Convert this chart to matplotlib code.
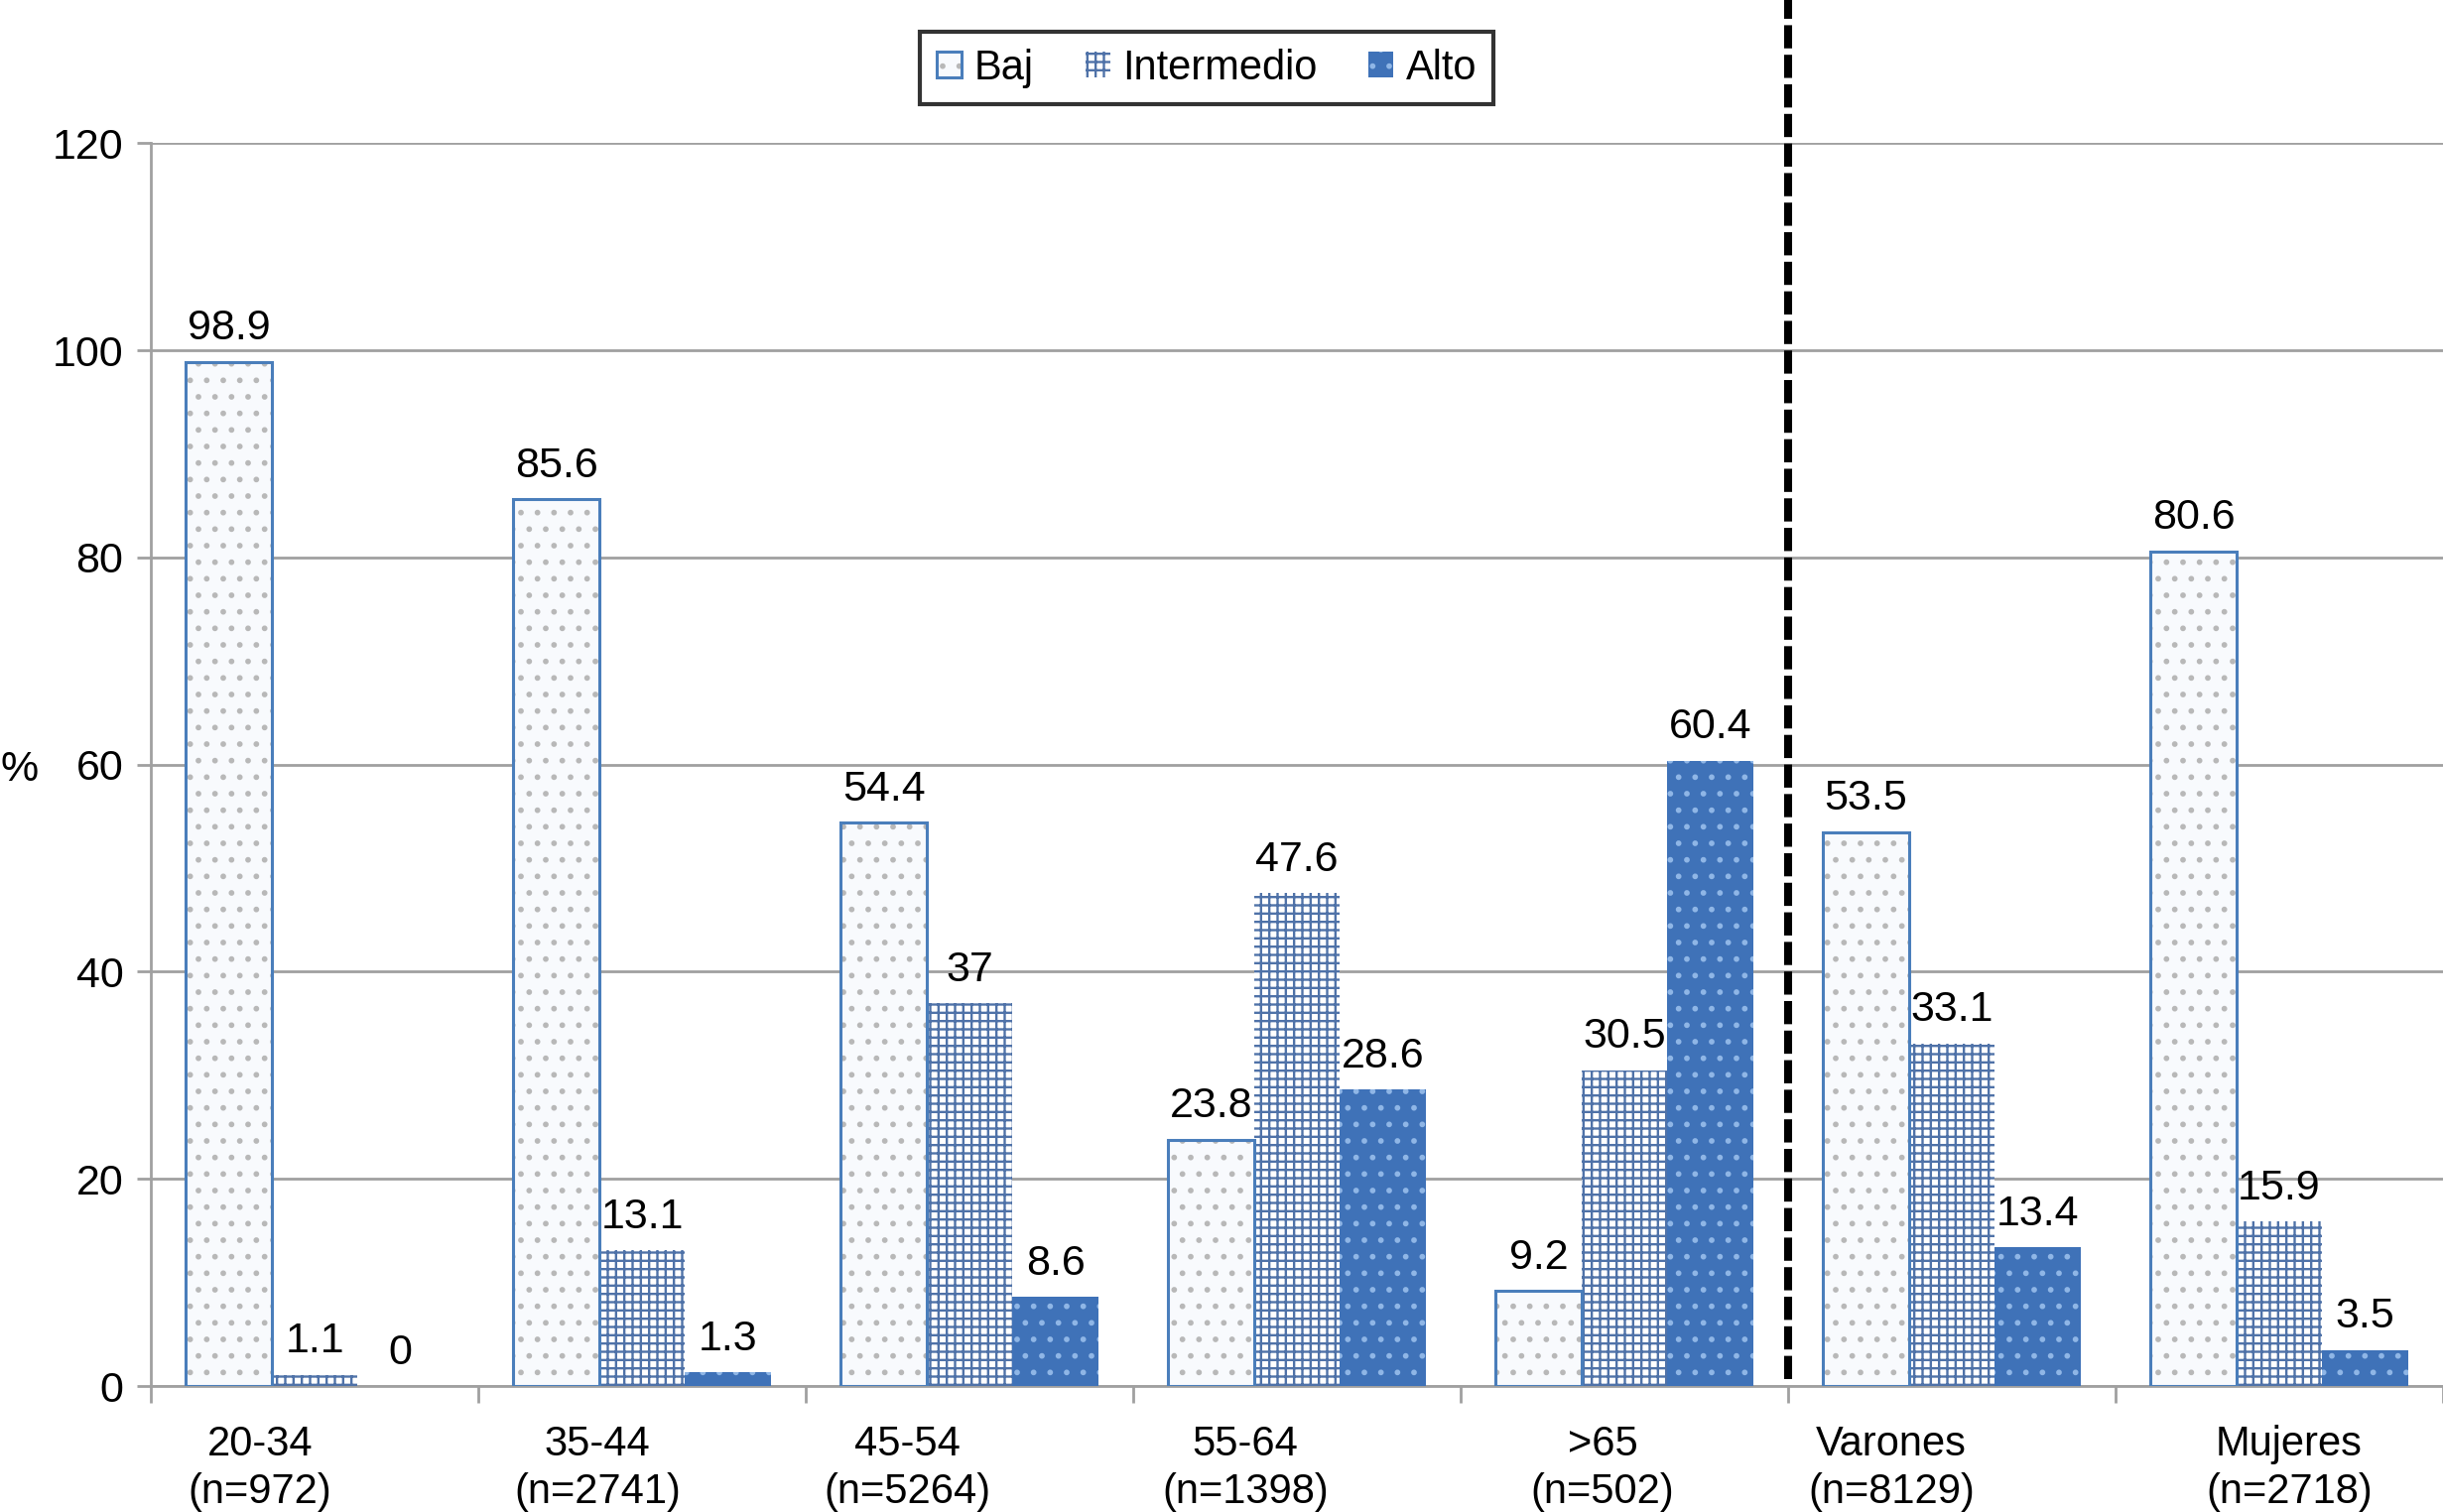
import numpy as np
import matplotlib
matplotlib.use('Agg')
import matplotlib.pyplot as plt
from matplotlib.patches import Patch

plt.rcParams['font.family'] = ['Liberation Sans', 'DejaVu Sans']
plt.rcParams['hatch.linewidth'] = 1.7

# Daten
grupos = ['20-34\n(n=972)', '35-44\n(n=2741)', '45-54\n(n=5264)', '55-64\n(n=1398)',
          '>65\n(n=502)', 'Varones\n(n=8129)', 'Mujeres\n(n=2718)']
baj = [98.9, 85.6, 54.4, 23.8, 9.2, 53.5, 80.6]
intermedio = [1.1, 13.1, 37, 47.6, 30.5, 33.1, 15.9]
alto = [0, 1.3, 8.6, 28.6, 60.4, 13.4, 3.5]
yticks = [0, 20, 40, 60, 80, 100, 120]

# Verschiebung der x-Beschriftungen wie im Original (in Gruppenbreiten)
lab_shift = [-0.167, -0.136, -0.19, -0.158, -0.067, -0.185, 0.03]

azul = '#4a7ebb'
azul_fill = '#3f72b8'
gris = '#a0a0a0'

fig = plt.figure(figsize=(24.62, 15.24), dpi=100)
ax = fig.add_axes([0.0618, 0.0833, 0.9382, 0.822])

x = np.arange(len(grupos))
w = 0.262

# Baj: helle Fläche mit grauen Punkten und blauem Rand
ax.bar(x - w, baj, w, color='#f8fafd', edgecolor='#b8b8b8', hatch='.', linewidth=0, zorder=3)
ax.bar(x - w, baj, w, fill=False, edgecolor=azul, linewidth=2.2, zorder=4)
# Intermedio: blaues Gitter
ax.bar(x, intermedio, w, color='white', edgecolor='#4f72a8', hatch='++', linewidth=0, zorder=3)
# Alto: blau mit hellen Punkten
ax.bar(x + w, alto, w, color=azul_fill, edgecolor='#8fb6e6', hatch='.', linewidth=0, zorder=3)

# Werte über den Balken
for serie, off in [(baj, -w), (intermedio, 0), (alto, w)]:
    for xi, v in zip(x, serie):
        ax.annotate(f'{v:g}', (xi + off, v), xytext=(0, 16), textcoords='offset points',
                    ha='center', va='baseline', fontsize=31, zorder=5)

ax.set_ylim(0, 120)
ax.set_xlim(-0.5, len(grupos) - 0.5)
ax.set_yticks(yticks)
ax.yaxis.grid(True, color=gris, linewidth=2, zorder=0)
ax.set_axisbelow(True)
ax.tick_params(axis='y', labelsize=31, length=10, width=2, color=gris, pad=10)

# x-Beschriftungen
ax.set_xticks(x + np.array(lab_shift))
ax.set_xticklabels(grupos, fontsize=30, linespacing=1.25)
ax.tick_params(axis='x', length=0, pad=28)
ax.set_xticks(np.arange(-0.5, len(grupos), 1), minor=True)
ax.tick_params(axis='x', which='minor', length=12, width=2, color=gris)

for s in ['top', 'right']:
    ax.spines[s].set_visible(False)
for s in ['left', 'bottom']:
    ax.spines[s].set_color(gris)
    ax.spines[s].set_linewidth(2)

ax.set_ylabel('%', rotation=0, fontsize=31)
ax.yaxis.set_label_coords(-0.0576, 0.48)

# gestrichelte Trennlinie
ax.axvline(4.5, ymin=0.006, ymax=1.116, color='black', linewidth=5.8,
           linestyle=(0, (2.9, 0.8)), clip_on=False, zorder=6)

# Legende
h1 = (Patch(facecolor='#f8fafd', edgecolor='#b8b8b8', hatch='.', linewidth=0),
      Patch(fill=False, edgecolor=azul, linewidth=2.2))
h2 = Patch(facecolor='white', edgecolor='#4f72a8', hatch='++', linewidth=0)
h3 = Patch(facecolor=azul_fill, edgecolor='#8fb6e6', hatch='.', linewidth=0)
leg = fig.legend([h1, h2, h3], ['Baj', 'Intermedio', 'Alto'], loc='center',
                 bbox_to_anchor=(0.494, 0.955), ncol=3, fontsize=30, frameon=True,
                 fancybox=False, edgecolor='black', handlelength=0.6, handleheight=0.6,
                 handletextpad=0.3, columnspacing=1.25, borderpad=0.4, borderaxespad=0)
leg.get_frame().set_linewidth(3)

fig.savefig('out.png', dpi=100)
